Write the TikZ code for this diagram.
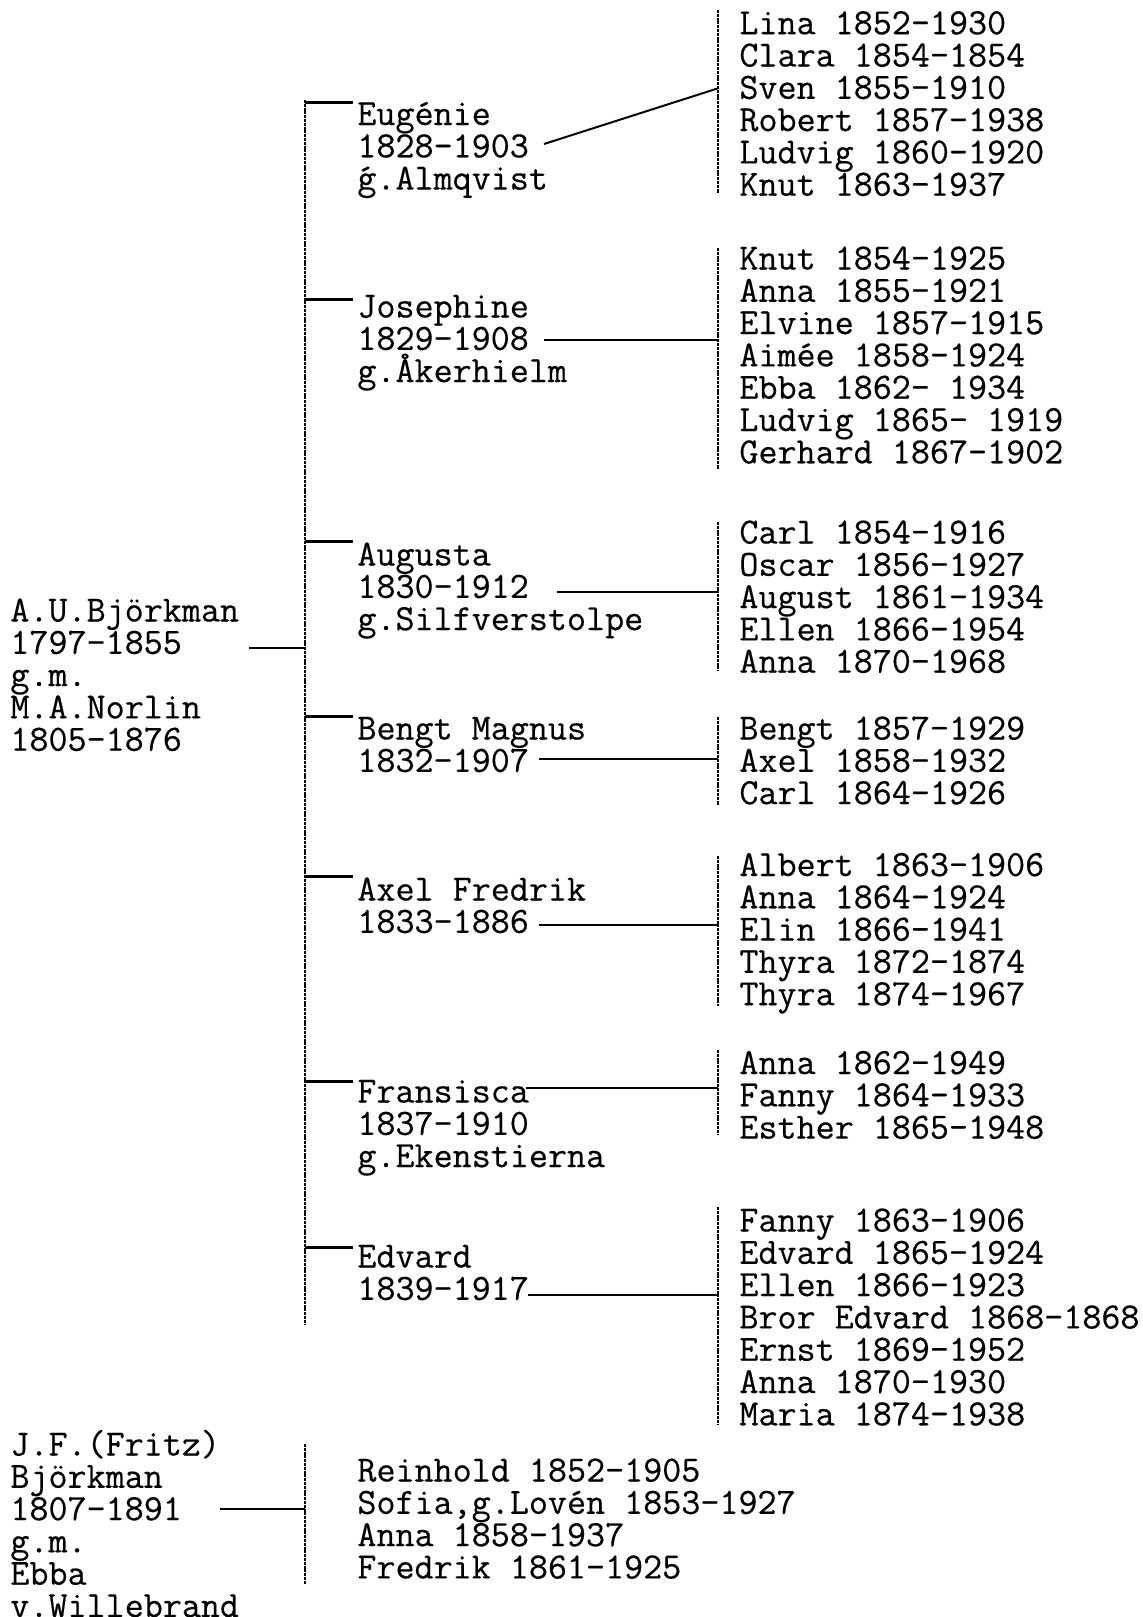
\documentclass[tikz,border=0pt]{standalone}
\usepackage{fontspec}
\setmonofont[FakeBold=0.4]{Latin Modern Mono}
\newcommand\twfont{\ttfamily\fontsize{18.5pt}{16.15pt}\selectfont\lineskiplimit=-50pt\lineskip=0pt}
\newcommand\fl{\rule{0pt}{18pt}}
\begin{document}
\begin{tikzpicture}[x=0.5pt,y=-0.5pt,
  txt/.style={anchor=north west,inner sep=0pt,align=left,font=\twfont},
  conn/.style={line width=1pt},
  tick/.style={line width=1.5pt},
  bracket/.style={line width=0.7pt,dash pattern=on 1.5pt off 0.4pt}]
\fill[white] (0,0) rectangle (1143,1617);
\useasboundingbox (0,0) rectangle (1143,1617);

% first generation
\node[txt] (root) at (10,585.1) {\fl A.U.Björkman\\1797-1855\\g.m.\\M.A.Norlin\\1805-1876};
\node[txt] (root2) at (10,1419.1) {\fl J.F.(Fritz)\\Björkman\\1807-1891\\g.m.\\Ebba\\v.Willebrand};

% children
\node[txt] (c1) at (357,88.6) {\fl Eugénie\\1828-1903\\ǵ.Almqvist};
\node[txt] (c2) at (357,281.1) {\fl Josephine\\1829-1908\\g.Åkerhielm};
\node[txt] (c3) at (357,529.1) {\fl Augusta\\1830-1912\\g.Silfverstolpe};
\node[txt] (c4) at (357,703.1) {\fl Bengt Magnus\\1832-1907};
\node[txt] (c5) at (357,864.1) {\fl Axel Fredrik\\1833-1886};
\node[txt] (c6) at (357,1066.1) {\fl Fransisca\\1837-1910\\g.Ekenstierna};
\node[txt] (c7) at (357,1231.1) {\fl Edvard\\1839-1917};
\node[txt] (k2) at (357,1445.1) {\fl Reinhold 1852-1905\\Sofia,g.Lovén 1853-1927\\Anna 1858-1937\\Fredrik 1861-1925};

% grandchildren
\node[txt] (g1) at (739,-2.2) {\fl Lina 1852-1930\\Clara 1854-1854\\Sven 1855-1910\\Robert 1857-1938\\Ludvig 1860-1920\\Knut 1863-1937};
\node[txt] (g2) at (739,233.1) {\fl Knut 1854-1925\\Anna 1855-1921\\Elvine 1857-1915\\Aimée 1858-1924\\Ebba 1862- 1934\\Ludvig 1865- 1919\\Gerhard 1867-1902};
\node[txt] (g3) at (739,507.1) {\fl Carl 1854-1916\\Oscar 1856-1927\\August 1861-1934\\Ellen 1866-1954\\Anna 1870-1968};
\node[txt] (g4) at (739,703.1) {\fl Bengt 1857-1929\\Axel 1858-1932\\Carl 1864-1926};
\node[txt] (g5) at (739,839.6) {\fl Albert 1863-1906\\Anna 1864-1924\\Elin 1866-1941\\Thyra 1872-1874\\Thyra 1874-1967};
\node[txt] (g6) at (739,1037.6) {\fl Anna 1862-1949\\Fanny 1864-1933\\Esther 1865-1948};
\node[txt] (g7) at (739,1195.1) {\fl Fanny 1863-1906\\Edvard 1865-1924\\Ellen 1866-1923\\Bror Edvard 1868-1868\\Ernst 1869-1952\\Anna 1870-1930\\Maria 1874-1938};

% coordinates of the brackets
\coordinate (mtop) at (305,100);
\coordinate (mbot) at (305,1324);
\coordinate (mroot) at (305,648);
\coordinate (rootend) at (249,648);
\foreach \n/\y in {1/102,2/299,3/541,4/716,5/876,6/1081,7/1247}{
  \coordinate (t\n a) at (305,\y);
  \coordinate (t\n b) at (353,\y);
}
\coordinate (b1t) at (718,10);   \coordinate (b1b) at (718,193);
\coordinate (b2t) at (718,248);  \coordinate (b2b) at (718,469);
\coordinate (b3t) at (718,522);  \coordinate (b3b) at (718,671);
\coordinate (b4t) at (718,717);  \coordinate (b4b) at (718,805);
\coordinate (b5t) at (718,856);  \coordinate (b5b) at (718,1006);
\coordinate (b6t) at (718,1050); \coordinate (b6b) at (718,1135);
\coordinate (b7t) at (718,1207); \coordinate (b7b) at (718,1424);

\coordinate (e1) at (544,144);  \coordinate (f1) at (719,88);
\coordinate (e2) at (544,340);  \coordinate (f2) at (718,340);
\coordinate (e3) at (557,592);  \coordinate (f3) at (718,592);
\coordinate (e4) at (539,759);  \coordinate (f4) at (718,759);
\coordinate (e5) at (539,925);  \coordinate (f5) at (718,925);
\coordinate (e6) at (526,1088); \coordinate (f6) at (718,1088);
\coordinate (e7) at (528,1295); \coordinate (f7) at (718,1295);

\coordinate (r2end) at (220,1509); \coordinate (r2j) at (305,1509);
\coordinate (k2t) at (305,1444); \coordinate (k2b) at (305,1584);

% main bracket
\draw[bracket] (mtop) -- (mbot);
\draw[conn] (rootend) -- (mroot);
\foreach \n in {1,...,7}{ \draw[tick] (t\n a) -- (t\n b); }

% grandchildren brackets
\foreach \n in {1,...,7}{
  \draw[bracket] (b\n t) -- (b\n b);
  \draw[conn] (e\n) -- (f\n);
}

% second family
\draw[bracket] (k2t) -- (k2b);
\draw[conn] (r2end) -- (r2j);
\end{tikzpicture}
\end{document}
